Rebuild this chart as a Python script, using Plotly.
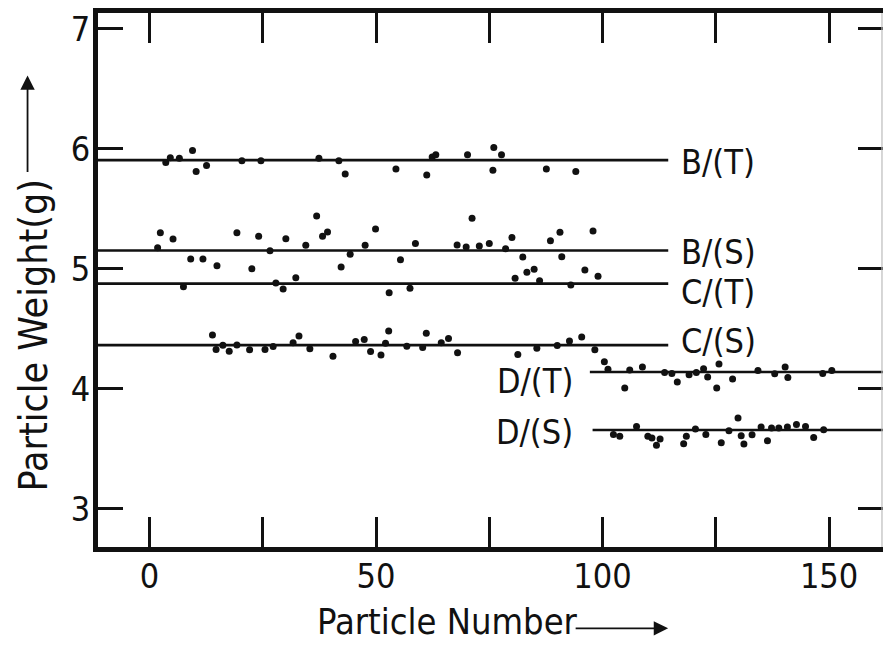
import plotly.graph_objects as go

# ---------------- data ----------------
bt_x = [3.6, 4.6, 6.6, 9.5, 10.3, 12.6, 20.4, 24.6, 37.4, 41.8, 43.2, 54.4, 61.2, 62.4, 63.2, 70.2, 76.0, 77.7, 75.8, 87.6, 94.1]
bt_y = [5.885, 5.925, 5.92, 5.985, 5.81, 5.86, 5.90, 5.90, 5.92, 5.90, 5.79, 5.83, 5.78, 5.93, 5.95, 5.95, 6.01, 5.95, 5.82, 5.83, 5.81]

bs_x = [1.8, 2.4, 5.2, 9.1, 11.8, 14.9, 19.3, 24.1, 26.6, 30.1, 34.5, 36.9, 38.2, 39.3, 42.3, 44.3, 47.6, 49.9,
        55.4, 58.7, 67.9, 69.9, 71.2, 72.8, 75.0, 78.6, 80.0, 82.4, 88.5, 90.6, 91.0, 97.9]
bs_y = [5.175, 5.30, 5.247, 5.08, 5.08, 5.025, 5.30, 5.27, 5.15, 5.25, 5.195, 5.44, 5.27, 5.305, 5.015, 5.12, 5.195, 5.33,
        5.075, 5.21, 5.197, 5.18, 5.42, 5.19, 5.21, 5.167, 5.26, 5.097, 5.233, 5.303, 5.10, 5.314]

ct_x = [7.5, 22.6, 27.9, 29.5, 32.3, 52.9, 57.5, 80.7, 83.3, 84.9, 86.1, 93.0, 96.1, 99.0]
ct_y = [4.85, 5.00, 4.88, 4.83, 4.925, 4.80, 4.837, 4.92, 4.97, 4.995, 4.90, 4.864, 4.99, 4.937]

cs_x = [13.9, 14.7, 16.2, 17.6, 19.3, 22.1, 25.5, 27.3, 31.7, 33.0, 35.4, 40.5, 45.5, 47.4, 48.8, 51.1, 52.1, 52.8,
        56.8, 60.3, 61.1, 64.4, 66.0, 68.0, 81.3, 85.5, 90.0, 92.7, 95.4, 98.3]
cs_y = [4.448, 4.326, 4.363, 4.313, 4.365, 4.324, 4.326, 4.351, 4.384, 4.44, 4.334, 4.27, 4.393, 4.41, 4.31, 4.282, 4.379, 4.48,
        4.354, 4.343, 4.463, 4.384, 4.418, 4.30, 4.285, 4.338, 4.36, 4.398, 4.432, 4.324]

dt_x = [100.4, 101.2, 104.9, 106.0, 108.8, 113.7, 115.3, 116.5, 119.1, 120.7, 122.3, 123.2, 125.2, 125.7, 128.7,
        134.3, 138.0, 140.3, 140.9, 148.6, 150.6]
dt_y = [4.224, 4.163, 4.005, 4.157, 4.18, 4.135, 4.126, 4.057, 4.116, 4.135, 4.166, 4.097, 4.007, 4.205, 4.082,
        4.152, 4.124, 4.18, 4.093, 4.126, 4.152]

ds_x = [102.4, 103.8, 107.5, 110.0, 110.9, 111.9, 112.7, 117.9, 118.5, 120.5, 122.8, 126.2, 127.9, 129.9, 130.6,
        131.2, 133.0, 135.0, 136.4, 137.3, 138.9, 140.8, 142.8, 144.8, 146.6, 148.8]
ds_y = [3.619, 3.603, 3.686, 3.603, 3.589, 3.528, 3.581, 3.542, 3.603, 3.664, 3.619, 3.55, 3.65, 3.755, 3.608,
        3.539, 3.617, 3.68, 3.567, 3.672, 3.672, 3.68, 3.702, 3.686, 3.594, 3.658]

line_names = ["B/(T)", "B/(S)", "C/(T)", "C/(S)", "D/(T)", "D/(S)"]
line_vals = [5.905, 5.152, 4.876, 4.363, 4.139, 3.656]
line_x0 = [-12, -12, -12, -12, 97.2, 97.8]
line_x1 = [114.5, 114.5, 114.5, 114.5, 163, 163]
label_y = [5.888, 5.139, 4.806, 4.40, 4.063, 3.640]

x_ticks = [0, 50, 100, 150]
x_minor = [25, 75, 125]
y_ticks = [3, 4, 5, 6, 7]

# ---------------- figure ----------------
FONT = "Liberation Sans Narrow, DejaVu Sans Condensed, Roboto Condensed, Liberation Sans, sans-serif"
INK = "#111111"

fig = go.Figure()
for n, v, a, b in zip(line_names, line_vals, line_x0, line_x1):
    fig.add_trace(go.Scatter(x=[a, b], y=[v, v], mode="lines",
                             line=dict(color=INK, width=2.6), hoverinfo="skip"))

for xs, ys in [(bt_x, bt_y), (bs_x, bs_y), (ct_x, ct_y), (cs_x, cs_y), (dt_x, dt_y), (ds_x, ds_y)]:
    fig.add_trace(go.Scatter(x=xs, y=ys, mode="markers",
                             marker=dict(color=INK, size=7, line=dict(width=0))))

# invisible trace that carries the right-hand tick axis
fig.add_trace(go.Scatter(x=[None], y=[None], yaxis="y2", mode="markers", hoverinfo="skip"))

annotations = []
for n, ly in zip(line_names, label_y):
    if n.startswith("D"):
        annotations.append(dict(x=94.0, y=ly, xref="x", yref="y", text=n, showarrow=False,
                                xanchor="right", yanchor="middle",
                                font=dict(family=FONT, size=34, color=INK)))
    else:
        annotations.append(dict(x=116.8, y=ly, xref="x", yref="y", text=n, showarrow=False,
                                xanchor="left", yanchor="middle",
                                font=dict(family=FONT, size=34, color=INK)))

L, T, R, B = 97.5, 12.5, 0, 104.5
W = 883 - L - R
H = 652 - T - B


def px2paper_x(px):
    return (px - L) / W


def py2paper_y(py):
    return (T + H - py) / H


# axis titles
annotations.append(dict(x=px2paper_x(315), y=py2paper_y(622), xref="paper", yref="paper",
                        text="Particle Number", showarrow=False, xanchor="left", yanchor="middle",
                        font=dict(family=FONT, size=36, color=INK)))
annotations.append(dict(x=px2paper_x(668), y=py2paper_y(629), xref="paper", yref="paper",
                        text="", showarrow=True, ax=-94, ay=0, arrowhead=2, arrowsize=1.6,
                        arrowwidth=1.8, arrowcolor=INK))
annotations.append(dict(x=px2paper_x(33), y=py2paper_y(336), xref="paper", yref="paper",
                        text="Particle Weight(g)", showarrow=False, textangle=-90,
                        xanchor="center", yanchor="middle",
                        font=dict(family=FONT, size=39, color=INK)))
annotations.append(dict(x=px2paper_x(27), y=py2paper_y(75), xref="paper", yref="paper",
                        text="", showarrow=True, ax=0, ay=98, arrowhead=2, arrowsize=1.6,
                        arrowwidth=1.8, arrowcolor=INK))

x_lo = -11.36
x_hi = 161.9
y_lo = 2.681
y_hi = 7.131

fig.update_layout(
    width=883, height=652,
    margin=dict(l=L, r=R, t=T, b=B, pad=0),
    paper_bgcolor="white", plot_bgcolor="white",
    showlegend=False,
    annotations=annotations,
    shapes=[dict(type="line", xref="paper", yref="paper", x0=0.9987, x1=0.9987, y0=0, y1=1,
                 line=dict(color="#bbbbbb", width=1.2))],
    xaxis=dict(range=[x_lo, x_hi], tickvals=x_ticks, ticktext=[str(t) for t in x_ticks],
               ticks="inside", ticklen=30, tickwidth=3, tickcolor=INK,
               showline=True, linewidth=5, linecolor=INK, mirror="allticks",
               showgrid=False, zeroline=False, ticklabelstandoff=-5,
               tickfont=dict(family=FONT, size=34, color=INK),
               minor=dict(tickvals=x_minor, ticks="inside", ticklen=19, tickwidth=3,
                          tickcolor=INK, showgrid=False)),
    yaxis=dict(range=[y_lo, y_hi], tickvals=y_ticks, ticktext=[str(t) for t in y_ticks],
               ticks="inside", ticklen=25, tickwidth=3, tickcolor=INK,
               showline=True, linewidth=5, linecolor=INK, mirror=False,
               showgrid=False, zeroline=False, ticklabelstandoff=-4,
               tickfont=dict(family=FONT, size=34, color=INK)),
    yaxis2=dict(range=[y_lo, y_hi], overlaying="y", side="right", tickvals=y_ticks,
                ticks="inside", ticklen=25, tickwidth=3, tickcolor=INK,
                showline=False, showticklabels=False, showgrid=False, zeroline=False),
)

fig.write_html("out.html")
